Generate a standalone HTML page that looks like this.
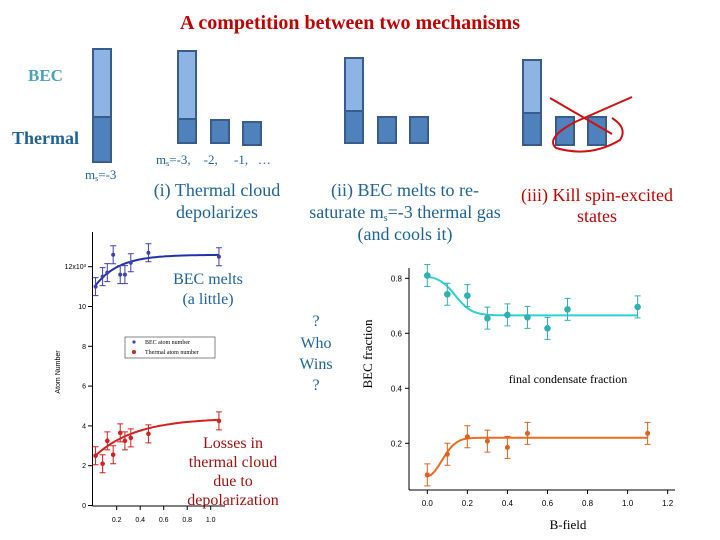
<!DOCTYPE html>
<html><head><meta charset="utf-8"><style>
html,body{margin:0;padding:0;background:#fff}
svg{display:block}
.serif{font-family:"Liberation Serif",serif}
.sans{font-family:"Liberation Sans",sans-serif}
</style></head><body>
<svg id="s" width="720" height="540" viewBox="0 0 720 540" xmlns="http://www.w3.org/2000/svg">
<text x="350" y="29" text-anchor="middle" class="serif" font-size="20" font-weight="bold" fill="#c00000">A competition between two mechanisms</text>
<text x="28" y="81" class="serif" font-size="17" font-weight="bold" fill="#4aa3b8">BEC</text>
<text x="12" y="144" class="serif" font-size="18" font-weight="bold" fill="#1f6394">Thermal</text>
<g class="serif" fill="#1f6394" font-size="13">
<text x="85" y="179">m<tspan font-size="8" dy="2">s</tspan><tspan dy="-2">=-3</tspan></text>
<text x="156" y="164">m<tspan font-size="8" dy="2">s</tspan><tspan dy="-2">=-3,&#160;&#160;&#160; -2,&#160;&#160;&#160;&#160; -1,&#160;&#160; …</tspan></text>
</g>
<g class="serif" font-size="18" text-anchor="middle">
<text x="217" y="196" fill="#1f6394">(i) Thermal cloud</text>
<text x="217" y="218" fill="#1f6394">depolarizes</text>
<text x="405" y="196" fill="#1f6394">(ii) BEC melts to re-</text>
<text x="405" y="218" fill="#1f6394">saturate m<tspan font-size="10" dy="3">s</tspan><tspan dy="-3">=-3 thermal gas</tspan></text>
<text x="405" y="240" fill="#1f6394">(and cools it)</text>
<text x="597" y="201" fill="#c00000">(iii) Kill spin-excited</text>
<text x="597" y="222" fill="#c00000">states</text>
<text x="208" y="284" fill="#1f6394" font-size="16">BEC melts</text>
<text x="208" y="304" fill="#1f6394" font-size="16">(a little)</text>
<text x="316" y="326" fill="#1f6394" font-size="16">?</text>
<text x="316" y="348" fill="#1f6394" font-size="16">Who</text>
<text x="316" y="369" fill="#1f6394" font-size="16">Wins</text>
<text x="316" y="390" fill="#1f6394" font-size="16">?</text>
<text x="233" y="448" fill="#a01010" font-size="16">Losses in</text>
<text x="233" y="467" fill="#a01010" font-size="16">thermal cloud</text>
<text x="233" y="486" fill="#a01010" font-size="16">due to</text>
<text x="233" y="505" fill="#a01010" font-size="16">depolarization</text>
</g>
<g id="bars" stroke="#385d8a" stroke-width="2"></g>
<path d="M550 98 L612 134 M632 97 L575 122 Q545 138 556 148 Q590 158 620 140 Q628 128 612 118" fill="none" stroke="#d01010" stroke-width="2"/>
<g id="left"></g>
<g id="right"></g>
</svg>
<script>
// ---- left chart data ----
const leftX=[0.02,0.08,0.12,0.17,0.23,0.27,0.32,0.47,1.07];
const becN=[11.0,11.5,11.7,12.6,11.6,11.6,12.2,12.7,12.5];
const thermN=[2.5,2.1,3.25,2.55,3.65,3.25,3.4,3.6,4.25];
const leftYTicks=[0,2,4,6,8,10,12];
const leftXTicks=[0.2,0.4,0.6,0.8,1.0];
// ---- right chart data ----
const cyanX=[0,0.1,0.2,0.3,0.4,0.5,0.6,0.7,1.05];
const cyanY=[0.81,0.742,0.737,0.655,0.667,0.658,0.618,0.687,0.696];
const orangeX=[0,0.1,0.2,0.3,0.4,0.5,1.1];
const orangeY=[0.085,0.16,0.224,0.208,0.185,0.236,0.236];
const rightYTicks=[0.2,0.4,0.6,0.8];
const rightXTicks=[0.0,0.2,0.4,0.6,0.8,1.0,1.2];

const NS="http://www.w3.org/2000/svg";
function mk(p,t,a){const e=document.createElementNS(NS,t);for(const k in a)e.setAttribute(k,a[k]);p.appendChild(e);return e;}

// bars diagram
const B=document.getElementById('bars');
const rects=[[93,49,117,162],[178,51,119,143],[345,58,111,143],[523,60,113,145]];
rects.forEach(r=>{
 const a=mk(B,'rect',{x:r[0],y:r[1],width:18,height:r[2]-r[1],fill:'#8eb4e3'});
 
 
 const b=mk(B,'rect',{x:r[0],y:r[2],width:18,height:r[3]-r[2],fill:'#4f81bd'});
 
 
});
[[211,120,143],[243,122,145],[378,117,143],[410,117,143],[556,117,145],[588,117,145]].forEach(r=>{
 const b=mk(B,'rect',{x:r[0],y:r[1],width:18,height:r[2]-r[1],fill:'#4f81bd'});
 
 
});

// left chart
const L=document.getElementById('left');
const lx=v=>93.2+v*117.5, ly=v=>505.5-v*19.9;
mk(L,'line',{x1:92.5,y1:232,x2:92.5,y2:506,stroke:'#000','stroke-width':1});
mk(L,'line',{x1:92.5,y1:506,x2:225,y2:506,stroke:'#000','stroke-width':1});
leftYTicks.forEach(t=>{
 mk(L,'line',{x1:88,x2:92.5,y1:ly(t),y2:ly(t),stroke:'#000'});
 const e=mk(L,'text',{x:86,y:ly(t)+2.5,'text-anchor':'end','font-size':7,'font-family':'Liberation Sans,sans-serif'});
 e.textContent=t===12?'12x10³':String(t);
 
 
});
leftXTicks.forEach(t=>{
 mk(L,'line',{x1:lx(t),x2:lx(t),y1:506,y2:510,stroke:'#000'});
 const e=mk(L,'text',{x:lx(t),y:522,'text-anchor':'middle','font-size':7,'font-family':'Liberation Sans,sans-serif'});
 e.textContent=t.toFixed(1);
 
 
});
const yl=mk(L,'text',{x:0,y:0,transform:'translate(60,372) rotate(-90)','text-anchor':'middle','font-size':7,'font-family':'Liberation Sans,sans-serif'});
yl.textContent='Atom Number';


function curve(g,f,x0,x1,sx,sy,col,w){let d='';for(let i=0;i<=60;i++){const x=x0+(x1-x0)*i/60;d+=(i?'L':'M')+sx(x).toFixed(1)+' '+sy(f(x)).toFixed(1);}return mk(g,'path',{d:d,fill:'none',stroke:col,'stroke-width':w});}
const c1=curve(L,x=>12.6-1.7*Math.exp(-x/0.2),0.02,1.07,lx,ly,'#2233aa',2);


const c2=curve(L,x=>4.4-2.0*Math.exp(-x/0.35),0.02,1.07,lx,ly,'#d42020',2);


function pts(g,xs,ys,sx,sy,col,err,r,name){xs.forEach((x,i)=>{
 const cx=sx(x),cy=sy(ys[i]),e=err;
 mk(g,'path',{d:`M${cx} ${cy-e}V${cy+e}M${cx-3} ${cy-e}h6M${cx-3} ${cy+e}h6`,stroke:col,'stroke-width':1,fill:'none'});
 const c=mk(g,'circle',{cx:cx,cy:cy,r:r,fill:col});
 
 
});}
pts(L,leftX,becN,lx,ly,'#4040b0',9,2,'bec-point');
pts(L,leftX,thermN,lx,ly,'#d42020',9,2.3,'thermal-point');
const lg=mk(L,'rect',{x:125,y:337,width:90,height:21,fill:'#fff',stroke:'#333','stroke-width':0.6});


mk(L,'circle',{cx:134,cy:342,r:1.6,fill:'#4040b0'});
mk(L,'circle',{cx:134,cy:352,r:2,fill:'#d42020'});
[['BEC atom number',344],['Thermal atom number',354]].forEach(a=>{const t=mk(L,'text',{x:145,y:a[1],'font-size':6,'font-family':'Liberation Serif,serif'});t.textContent=a[0];
 
 });

// right chart
const R=document.getElementById('right');
const rx=v=>427.3+v*200.3, ry=v=>498.3-v*275;
mk(R,'line',{x1:409,y1:268,x2:409,y2:490,stroke:'#000','stroke-width':1});
mk(R,'line',{x1:409,y1:490,x2:675,y2:490,stroke:'#000','stroke-width':1});
rightYTicks.forEach(t=>{
 mk(R,'line',{x1:405,x2:409,y1:ry(t),y2:ry(t),stroke:'#000'});
 const e=mk(R,'text',{x:402,y:ry(t)+3,'text-anchor':'end','font-size':8,'font-family':'Liberation Sans,sans-serif'});
 e.textContent=t.toFixed(1);
 
 
});
rightXTicks.forEach(t=>{
 mk(R,'line',{x1:rx(t),x2:rx(t),y1:490,y2:494,stroke:'#000'});
 const e=mk(R,'text',{x:rx(t),y:506,'text-anchor':'middle','font-size':8,'font-family':'Liberation Sans,sans-serif'});
 e.textContent=t.toFixed(1);
 
 
});
const ryl=mk(R,'text',{x:0,y:0,transform:'translate(372,354) rotate(-90)','text-anchor':'middle','font-size':13,'font-family':'Liberation Serif,serif'});
ryl.textContent='BEC fraction';


const rxl=mk(R,'text',{x:568,y:529,'text-anchor':'middle','font-size':13,'font-family':'Liberation Serif,serif'});
rxl.textContent='B-field';


const ann=mk(R,'text',{x:568,y:383,'text-anchor':'middle','font-size':12,'font-family':'Liberation Serif,serif'});
ann.textContent='final condensate fraction';


const c3=curve(R,x=>0.665+0.145/(1+Math.exp((x-0.14)/0.04)),0,1.05,rx,ry,'#30d0d0',2);


const c4=curve(R,x=>0.22-0.14*Math.exp(-Math.pow(x/0.1,2)),0,1.1,rx,ry,'#ee6a20',2);


pts(R,cyanX,cyanY,rx,ry,'#30b0b0',11,3.3,'condensate-point');
pts(R,orangeX,orangeY,rx,ry,'#e06020',11,2.5,'orange-point');
</script>
</body></html>
